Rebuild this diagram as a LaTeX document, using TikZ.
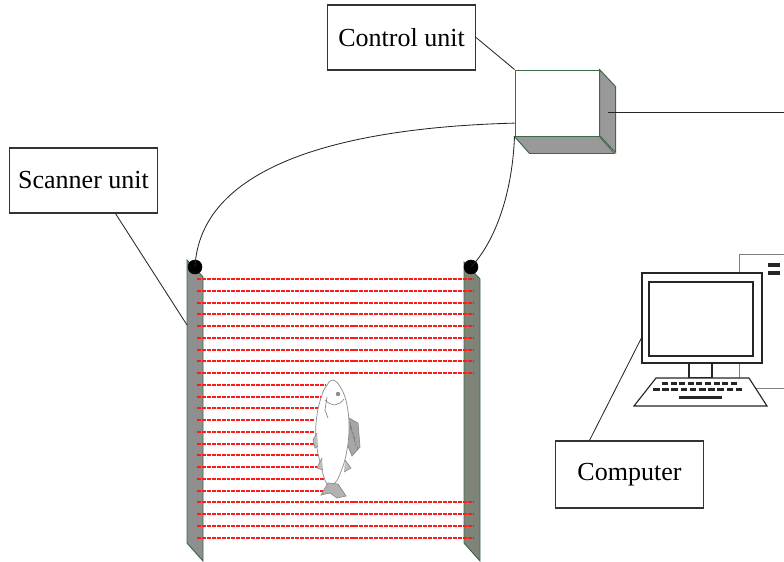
\documentclass[tikz,border=0pt]{standalone}
\usepackage{fontspec}
\setmainfont{Liberation Serif}
\usetikzlibrary{calc}
\definecolor{edgegreen}{HTML}{3E6A4C}
\definecolor{postgrey}{HTML}{8F8F8F}
\definecolor{postgreen}{HTML}{7E8578}
\definecolor{beamred}{HTML}{FF1A1A}
\tikzset{
  tagbox/.style={draw=black!80,line width=0.8pt,fill=white,rectangle,minimum height=1.625cm,
    minimum width=3.7cm,anchor=center,font=\fontsize{18.5}{20}\selectfont},
  wire/.style={draw=black!85,line width=0.6pt},
  post/.style={draw=edgegreen,line width=0.7pt},
  beam/.style={draw=beamred,line width=1.42pt,dash pattern=on 2.8pt off 0.7pt},
  fishline/.style={draw=black!45,line width=0.5pt},
}
\begin{document}
\begin{tikzpicture}[x=0.025cm,y=-0.025cm]
        \useasboundingbox (0,0) rectangle (784,561);
        %% Labels
        \node[tagbox] (C) at (401.5,37.5) {Control unit};
        \node[tagbox] (S) at (83.5,180.5) {Scanner unit};
        \node[tagbox,minimum height=1.675cm] (PC) at (629.5,474.5) {Computer};
        %% Control box (cube)
        \node[draw=edgegreen,line width=0.7pt,fill=white,rectangle,minimum height=1.65cm,minimum width=2.1cm,anchor=center] (CU) at (557,103) {};
        \draw[draw=edgegreen,line width=0.7pt,fill=black!40] (CU.north east) -- ++(16,17) -- ++(0,66) -- ++(-16,-17) -- cycle;
        \draw[draw=edgegreen,line width=0.7pt,fill=black!40] (CU.south west) -- ++(15,17) -- ++(85,0) -- (CU.south east) -- cycle;
        \coordinate (CUside) at (608,112);
        \coordinate (CUw) at ($(CU.west)!0.6!(CU.south west)$);
        \coordinate (toPC) at (784,112);
        %% Posts of the scanner
        \draw[post,fill=postgrey] (187,260) -- (203,277) -- (203,561) -- (187,543) -- cycle;
        \draw[post,fill=postgreen] (464,262) -- (480,279) -- (480,561) -- (464,543) -- cycle;
        \coordinate (P) at (187,325);
        %% Light beams, cut where the fish stands
        \foreach \y/\xe in {279/473,291/473,303/473,314/473,326/473,338/473,350/473,361/473,373/473,
                            385/325,397/325,408/325,420/315,432/315,444/315,455/325,467/325,479/335,491/325,
                            502/473,514/473,526/473,538/473}
          \draw[beam] (197,\y) -- (\xe,\y);
        %% Fish
        \draw[fishline,fill=black!35] (349,418) -- (358,423) -- (360,447) -- (352,456) -- (348,446);
        \foreach \k in {0,...,5}
          \draw[black!55,line width=0.4pt] (350+1.5*\k,422+5*\k) -- (351+1.2*\k,430+4*\k);
        \draw[fishline,fill=white] plot[smooth cycle,tension=0.7] coordinates {(333,380) (341,388) (347,405) (349,430) (346,455) (340,474) (334,484) (327,484) (321,466) (316,440) (317,415) (322,395) (327,385)};
        \draw[fishline,fill=black!30] (328,483) -- (321,495) -- (330,493) -- (337,498) -- (346,496) -- (338,484) -- cycle;
        \draw[fishline,fill=black!25] (317,433) -- (313,440) -- (315,448) -- (318,446);
        \draw[fishline,fill=black!25] (322,458) -- (317,468) -- (323,470);
        \draw[fishline,fill=black!25] (345,460) -- (351,468) -- (344,472);
        \draw[fishline] (325,400) .. controls (332,407) and (339,406) .. (344,399);
        \draw[fishline] (327,397) -- (325,410) -- (328,418);
        \fill[black!45] (338,394) circle (2.2);
        %% Computer
        \draw[draw=black!50,line width=0.7pt,fill=white] (790,254) -- (739,254) -- (739,388) -- (790,388);
        \fill[black!85] (768,263) rectangle (780,266.5);
        \fill[black!85] (768,271) rectangle (780,274.5);
        \node[draw=black!85,line width=0.8pt,fill=white,rectangle,minimum width=3cm,minimum height=2.25cm,anchor=center] (MON) at (702,318) {};
        \draw[black!85,line width=0.8pt] (649,282) rectangle (753,356);
        \draw[black!85,line width=0.8pt,fill=white] (689,363) rectangle (712,378);
        \draw[black!85,line width=0.8pt,fill=white] (656,378) -- (749,378) -- (767,406) -- (634,406) -- cycle;
        \foreach \j in {0,...,8}
          \fill[black!85] (662+8.6*\j,381.5) rectangle ++(6,3);
        \foreach \j in {0,...,9}
          \fill[black!85] (653+9.2*\j,388) rectangle ++(6.5,3);
        \fill[black!85] (679,395.5) rectangle (722,398.5);
        %% Wires
        \draw[wire] (C.east) -- (CU.north west);
        \draw[wire] (CUside) -- (toPC);
        \draw[wire] ([xshift=0.8cm]S.south) -- (P);
        \draw[wire] ([xshift=-1cm]PC.north) -- ([yshift=-0.5cm]MON.west);
        \draw[fill] (195,267) circle (7);
        \draw[fill] (471,267) circle (7);
        \draw[wire] (CUw) .. controls (330,128) and (200,170) .. (195,267);
        \draw[wire] (CU.south west) .. controls (512,200) and (492,245) .. (471,267);
    \end{tikzpicture}
\end{document}
